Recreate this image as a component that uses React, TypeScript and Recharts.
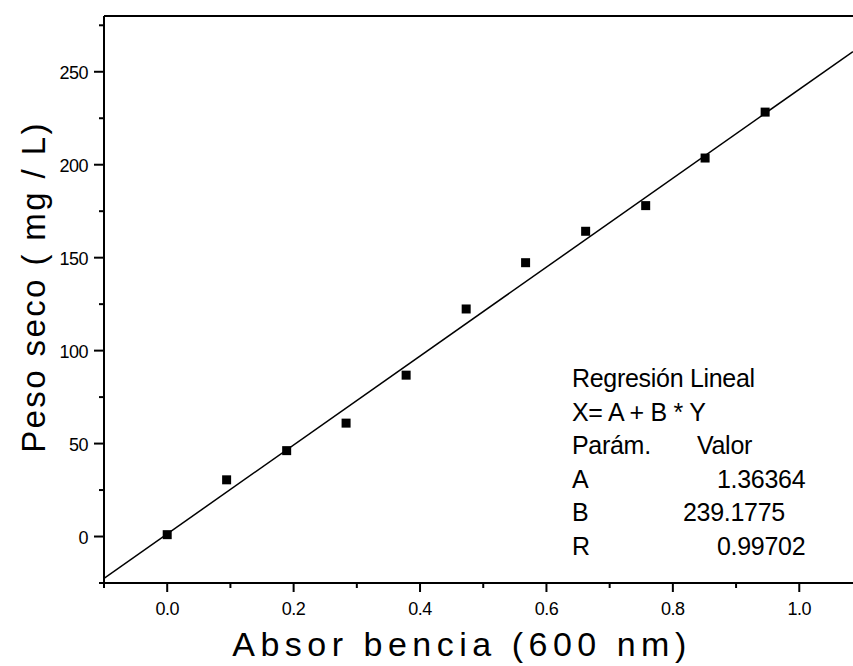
import { ScatterChart, Scatter, XAxis, YAxis, Label, Customized, ReferenceLine } from "recharts";

// absorbance at 600 nm vs dry weight (mg/L)
const absorbance = [0, 0.094, 0.189, 0.283, 0.378, 0.473, 0.567, 0.662, 0.757, 0.851, 0.946];
const dryWeight = [1, 30.5, 46.2, 61, 86.8, 122.4, 147.3, 164.2, 178, 203.6, 228.3];

// fitted line, read at the edges of the plot
const fitX = [-0.1, 1.085];
const fitY = [-22.5, 260.9];

const xTicks = [-0.1, 0, 0.1, 0.2, 0.3, 0.4, 0.5, 0.6, 0.7, 0.8, 0.9, 1.0];
const yTicks = [-25, 0, 25, 50, 75, 100, 125, 150, 175, 200, 225, 250, 275];

const fitLabels = ["Regresión Lineal", "X= A + B * Y", "Parám.", "A", "B", "R"];
const fitValues = ["", "", "Valor", "1.36364", "239.1775", "0.99702"];
const valueX = [0, 0, 697, 717, 683, 717];

const points = absorbance.map((x, i) => ({ x, y: dryWeight[i] }));
const fit = fitX.map((x, i) => ({ x, y: fitY[i] }));

const FONT = "'Liberation Sans', Arial, sans-serif";

const Square = (props: any) => {
  const { cx, cy } = props;
  return <rect x={cx - 4.5} y={cy - 4.5} width={9} height={9} fill="#000" />;
};

const XTick = (props: any) => {
  const { x, y, payload } = props;
  const v = payload.value;
  const major = Math.round(v * 10) % 2 === 0;
  return (
    <g>
      <line x1={x} x2={x} y1={y} y2={y + (major ? 9 : 5)} stroke="#000" strokeWidth={2} />
      {major && (
        <text x={x} y={y + 32} textAnchor="middle" fontSize={18} fontFamily={FONT} fill="#000" letterSpacing={-0.5}>
          {v.toFixed(1)}
        </text>
      )}
    </g>
  );
};

const YTick = (props: any) => {
  const { x, y, payload } = props;
  const v = payload.value;
  const major = v % 50 === 0;
  return (
    <g>
      <line x1={x - (major ? 10 : 5)} x2={x} y1={y} y2={y} stroke="#000" strokeWidth={2} />
      {major && (
        <text x={x - 16} y={y + 7} textAnchor="end" fontSize={18} fontFamily={FONT} fill="#000" letterSpacing={-0.5}>
          {v}
        </text>
      )}
    </g>
  );
};

const Annotation = () => (
  <g fontFamily={FONT} fontSize={25} fill="#000" letterSpacing={-0.3}>
    {fitLabels.map((t, i) => (
      <g key={i}>
        <text x={572} y={387 + i * 33.5}>{t}</text>
        {fitValues[i] && (
          <text x={valueX[i]} y={387 + i * 33.5}>
            {fitValues[i]}
          </text>
        )}
      </g>
    ))}
  </g>
);

export default function App() {
  return (
    <div style={{ position: "absolute", left: 0, top: 0, background: "#fff" }}>
      <ScatterChart width={853} height={666} margin={{ top: 16, right: 0, bottom: 0, left: 0 }}>
        <XAxis
          type="number"
          dataKey="x"
          domain={[-0.1, 1.085]}
          ticks={xTicks}
          interval={0}
          height={83}
          tickSize={0}
          tickMargin={0}
          tickLine={false}
          tick={<XTick />}
          axisLine={{ stroke: "#000", strokeWidth: 2 }}
          allowDataOverflow
        >
          <Label
            content={() => (
              <text x={462} y={656} textAnchor="middle" fontSize={34} fontFamily={FONT} fill="#000" letterSpacing={5.5}>
                Absor bencia (600 nm)
              </text>
            )}
          />
        </XAxis>
        <YAxis
          type="number"
          dataKey="y"
          domain={[-25, 280]}
          ticks={yTicks}
          interval={0}
          width={104}
          tickSize={0}
          tickMargin={0}
          tickLine={false}
          tick={<YTick />}
          axisLine={{ stroke: "#000", strokeWidth: 2 }}
          allowDataOverflow
        >
          <Label
            content={() => (
              <text
                x={45}
                y={287}
                transform="rotate(-90, 45, 287)"
                textAnchor="middle"
                fontSize={33}
                fontFamily={FONT}
                fill="#000"
                letterSpacing={2.4}
              >
                Peso seco ( mg / L)
              </text>
            )}
          />
        </YAxis>
        <ReferenceLine y={280} stroke="#000" strokeWidth={2} />
        <Scatter
          data={fit}
          line={{ stroke: "#000", strokeWidth: 1.5 }}
          shape={() => <g />}
          isAnimationActive={false}
        />
        <Scatter data={points} shape={<Square />} isAnimationActive={false} />
        <Customized component={Annotation} />
      </ScatterChart>
    </div>
  );
}
